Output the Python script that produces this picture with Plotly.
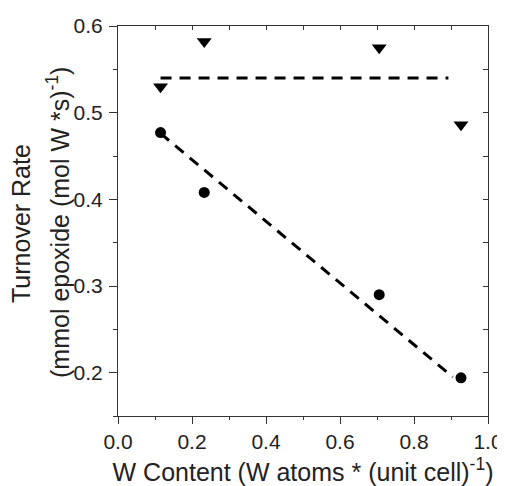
import plotly.graph_objects as go

w_content = [0.115, 0.233, 0.706, 0.927]
rate_circles = [0.477, 0.408, 0.290, 0.194]
rate_triangles = [0.530, 0.582, 0.575, 0.486]
fit_low_x = [0.115, 0.905]
fit_low_y = [0.476, 0.195]
fit_high_x = [0.115, 0.893]
fit_high_y = [0.540, 0.540]

x_ticks = [0.0, 0.2, 0.4, 0.6, 0.8, 1.0]
y_ticks = [0.2, 0.3, 0.4, 0.5, 0.6]

font_family = "Liberation Sans, Arial, sans-serif"
axcol = "#333333"

fig = go.Figure()
dash = "11px,8px"
fig.add_trace(go.Scatter(x=fit_high_x, y=fit_high_y, mode="lines",
                         line=dict(color="black", width=3, dash=dash), showlegend=False))
fig.add_trace(go.Scatter(x=fit_low_x, y=fit_low_y, mode="lines",
                         line=dict(color="black", width=3, dash=dash), showlegend=False))
fig.add_trace(go.Scatter(x=w_content, y=rate_triangles, mode="markers",
                         marker=dict(symbol="triangle-down", size=13, color="black"), showlegend=False))
fig.add_trace(go.Scatter(x=w_content, y=rate_circles, mode="markers",
                         marker=dict(symbol="circle", size=11, color="black"), showlegend=False))
fig.add_trace(go.Scatter(x=[None], y=[None], xaxis="x2", yaxis="y2", showlegend=False))

fig.update_layout(
    width=497, height=478,
    margin=dict(l=110, r=17, t=18, b=70),
    plot_bgcolor="white", paper_bgcolor="white",
    font=dict(family=font_family, color="#222222"),
    xaxis=dict(range=[0, 1], tickvals=x_ticks, ticktext=[f"{v:.1f}" for v in x_ticks],
               ticks="outside", ticklen=7, tickcolor=axcol, tickwidth=1,
               minor=dict(dtick=0.1, tick0=0, ticks="outside", ticklen=3, tickcolor=axcol),
               showline=True, linecolor=axcol, linewidth=1, showgrid=False, zeroline=False,
               automargin=False,
               tickfont=dict(size=21), title=dict(text="W Content (W atoms * (unit cell)<sup>-1</sup>)",
                                                  font=dict(size=25), standoff=11)),
    yaxis=dict(range=[0.15, 0.6], tickvals=y_ticks, ticktext=[f"{v:.1f}" for v in y_ticks],
               ticks="outside", ticklen=8, tickcolor=axcol, tickwidth=1,
               minor=dict(dtick=0.05, tick0=0.15, ticks="outside", ticklen=4, tickcolor=axcol),
               showline=True, linecolor=axcol, linewidth=1, showgrid=False, zeroline=False,
               automargin=False, ticklabelstandoff=2,
               tickfont=dict(size=21)),
    xaxis2=dict(overlaying="x", side="top", range=[0, 1], dtick=0.1, tick0=0,
                ticks="inside", ticklen=4, tickcolor=axcol, showticklabels=False, automargin=False,
                showline=True, linecolor=axcol, linewidth=1, showgrid=False, zeroline=False),
    yaxis2=dict(overlaying="y", side="right", range=[0.15, 0.6], dtick=0.05, tick0=0.15,
                ticks="inside", ticklen=5, tickcolor=axcol, showticklabels=False, automargin=False,
                showline=True, linecolor=axcol, linewidth=1, showgrid=False, zeroline=False),
    annotations=[
        dict(text="Turnover Rate", xref="paper", yref="paper", x=0.0, y=0.5,
             xshift=-97, yshift=-3, showarrow=False, textangle=-90, font=dict(size=25),
             xanchor="center", yanchor="middle"),
        dict(text="(mmol epoxide (mol W *s)<sup>-1</sup>)", xref="paper", yref="paper", x=0.0, y=0.5,
             xshift=-60, yshift=-2, showarrow=False, textangle=-90, font=dict(size=25),
             xanchor="center", yanchor="middle"),
    ],
)

fig.write_html("out.html")
